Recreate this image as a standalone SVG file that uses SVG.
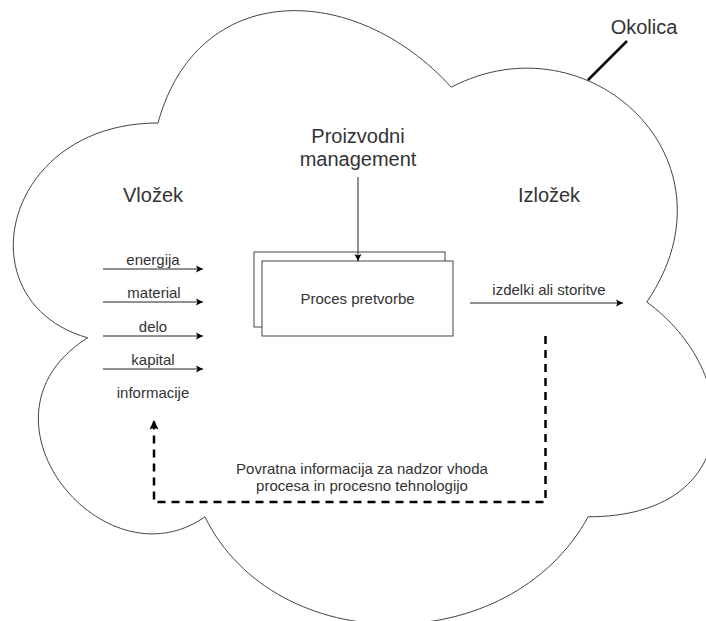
<svg xmlns="http://www.w3.org/2000/svg" width="706" height="621" viewBox="0 0 706 621">
  <style>
    .lbl { font-family: "Liberation Sans", Arial, sans-serif; fill: #333; text-anchor: middle; }
    .big { font-size: 20px; }
    .sm { font-size: 15px; }
    .outline { fill: #fff; stroke: #444; stroke-width: 1; }
    .flow { fill: none; stroke: #222; stroke-width: 1; }
    .feedback { fill: none; stroke: #000; stroke-width: 2.5; stroke-dasharray: 8 6; }
  </style>
  <defs>
    <marker id="arrow" markerUnits="userSpaceOnUse" markerWidth="9" markerHeight="9" refX="8" refY="4.5" orient="auto">
      <path d="M1,1 L8,4.5 L1,8 L2.5,4.5 Z" fill="#000"/>
    </marker>
    <marker id="arrowBold" markerUnits="userSpaceOnUse" markerWidth="12" markerHeight="12" refX="10.5" refY="6" orient="auto">
      <path d="M1,1.5 L10.5,6 L1,10.5 L3,6 Z" fill="#000"/>
    </marker>
  </defs>

  <rect width="706" height="621" fill="#fff"/>

  <!-- environment: cloud outline -->
  <g id="okolica">
    <path class="outline" d="M158,123 C1.6,123 -37.5,302 87.6,337.8 C-37.5,416.6 103.3,588.4 204.9,516.8 C275.3,660 509.9,660 588.1,516.8 C744.5,516.8 744.5,373.6 646.8,302 C744.5,158.8 588.1,15.6 451.3,87.2 C353.5,-20.2 197.1,-20.2 158,123 Z"/>
    <line x1="588" y1="80" x2="627" y2="41" stroke="#000" stroke-width="2.5"/>
    <text class="lbl big" x="644" y="34">Okolica</text>
  </g>

  <g id="vlozek">
    <text class="lbl big" x="153" y="202">Vložek</text>
  </g>

  <g id="izlozek">
    <text class="lbl big" x="549" y="202">Izložek</text>
  </g>

  <g id="management">
    <text class="lbl big" x="358" y="143">Proizvodni</text>
    <text class="lbl big" x="358" y="166">management</text>
  </g>

  <!-- transformation process: stacked boxes -->
  <g id="proces">
    <rect class="outline" x="254" y="252" width="191" height="75"/>
    <rect class="outline" x="262" y="261" width="191" height="75"/>
    <text class="lbl sm" x="357.5" y="304">Proces pretvorbe</text>
  </g>

  <g id="informacije">
    <text class="lbl sm" x="153" y="398">informacije</text>
  </g>

  <g id="povratna">
    <text class="lbl sm" x="362" y="474">Povratna informacija za nadzor vhoda</text>
    <text class="lbl sm" x="362" y="491">procesa in procesno tehnologijo</text>
  </g>

  <!-- connectors -->
  <g id="connectors">
    <line class="flow" x1="358" y1="177" x2="358" y2="261" marker-end="url(#arrow)"/>

    <line class="flow" x1="103" y1="269" x2="203" y2="269" marker-end="url(#arrow)"/>
    <text class="lbl sm" x="153" y="265">energija</text>
    <line class="flow" x1="103" y1="302" x2="203" y2="302" marker-end="url(#arrow)"/>
    <text class="lbl sm" x="154" y="298">material</text>
    <line class="flow" x1="103" y1="336" x2="203" y2="336" marker-end="url(#arrow)"/>
    <text class="lbl sm" x="153" y="332">delo</text>
    <line class="flow" x1="103" y1="369" x2="203" y2="369" marker-end="url(#arrow)"/>
    <text class="lbl sm" x="153" y="365">kapital</text>

    <line class="flow" x1="470" y1="303" x2="623" y2="303" marker-end="url(#arrow)"/>
    <text class="lbl sm" x="549" y="295">izdelki ali storitve</text>

    <path class="feedback" d="M545.5,336 L545.5,502 L154,502 L154,420" marker-end="url(#arrowBold)"/>
  </g>
</svg>
